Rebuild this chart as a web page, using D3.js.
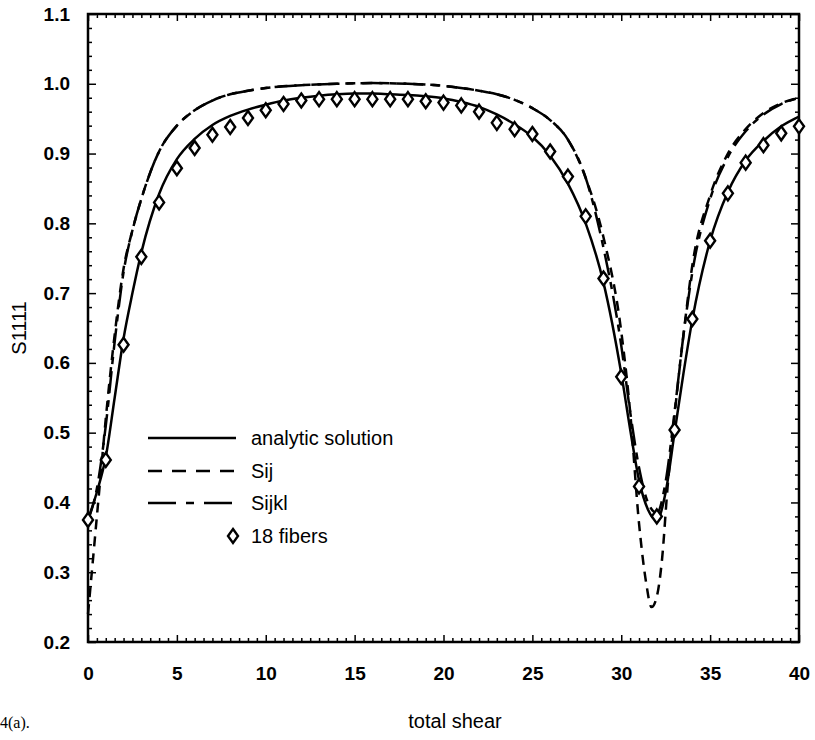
<!DOCTYPE html>
<html>
<head>
<meta charset="utf-8">
<style>
body { margin: 0; background: #fff; }
svg { display: block; }
.tick-label { font-family: "Liberation Sans", Arial, sans-serif; font-weight: bold; font-size: 19px; fill: #000; }
.legend text { font-family: "Liberation Sans", Arial, sans-serif; font-size: 20px; fill: #000; }
</style>
</head>
<body>
<script src="https://d3js.org/d3.v7.min.js"></script>
<script>
// values
var fiberShear = d3.range(0, 41);
var fibers18 = [0.375, 0.461, 0.626, 0.752, 0.83, 0.879, 0.908, 0.927, 0.938, 0.951,
                0.962, 0.971, 0.976, 0.978, 0.978, 0.978, 0.978, 0.978, 0.978, 0.975,
                0.973, 0.969, 0.960, 0.944, 0.935, 0.928, 0.903, 0.867, 0.810, 0.721,
                0.580, 0.423, 0.380, 0.504, 0.663, 0.775, 0.843, 0.887, 0.912, 0.929, 0.939];

var analyticShear = [0, 0.5, 1, 1.5, 2, 2.5, 3, 4, 5, 6, 7, 8, 9, 10, 11, 12, 13, 14, 15, 16, 17, 18, 19, 20,
                     21, 22, 23, 24, 25, 26, 27, 28, 29, 30, 30.5, 31, 31.5, 32, 32.5, 33, 33.5, 34, 35, 36, 37, 38, 39, 40];
var analytic = [0.375, 0.415, 0.465, 0.55, 0.635, 0.70, 0.758, 0.842, 0.892, 0.921, 0.941, 0.954, 0.963, 0.970,
                0.976, 0.980, 0.983, 0.985, 0.986, 0.986, 0.985, 0.984, 0.982, 0.979, 0.974, 0.967, 0.956, 0.942,
                0.924, 0.897, 0.857, 0.800, 0.715, 0.585, 0.505, 0.432, 0.39, 0.375, 0.415, 0.50, 0.585, 0.662,
                0.775, 0.845, 0.89, 0.918, 0.939, 0.953];

var sijShear = [0, 0.25, 0.5, 0.75, 1, 1.5, 2, 2.5, 3, 4, 5, 6, 7, 8, 9, 10, 12, 14, 16, 18, 20, 22, 23, 24, 25,
                26, 27, 28, 29, 30, 30.5, 31, 31.4, 31.7, 32, 32.3, 32.6, 33, 33.5, 34, 35, 36, 37, 38, 39, 40];
var sij = [0.24, 0.31, 0.38, 0.45, 0.52, 0.64, 0.735, 0.79, 0.835, 0.903, 0.94, 0.962, 0.976, 0.985, 0.99, 0.994,
           0.998, 1.0, 1.001, 1.0, 0.997, 0.99, 0.985, 0.977, 0.965, 0.948, 0.92, 0.865, 0.78, 0.645, 0.53, 0.37,
           0.285, 0.25, 0.265, 0.32, 0.42, 0.525, 0.64, 0.74, 0.84, 0.90, 0.935, 0.958, 0.972, 0.98];

var sijklShear = [0, 0.5, 1, 1.5, 2, 2.5, 3, 4, 5, 6, 7, 8, 9, 10, 12, 14, 16, 18, 20, 22, 23, 24, 25, 26, 27,
                  28, 29, 30, 30.5, 31, 31.5, 32, 32.5, 33, 33.5, 34, 35, 36, 37, 38, 39, 40];
var sijkl = [0.375, 0.42, 0.51, 0.63, 0.73, 0.79, 0.835, 0.903, 0.94, 0.962, 0.976, 0.985, 0.99, 0.994, 0.998,
             1.0, 1.001, 1.0, 0.997, 0.99, 0.985, 0.977, 0.965, 0.948, 0.92, 0.865, 0.765, 0.625, 0.53, 0.45,
             0.40, 0.385, 0.43, 0.53, 0.64, 0.73, 0.835, 0.895, 0.932, 0.956, 0.971, 0.98];

var xTicks = [0, 5, 10, 15, 20, 25, 30, 35, 40];
var yTicks = [0.2, 0.3, 0.4, 0.5, 0.6, 0.7, 0.8, 0.9, 1.0, 1.1];
var legendNames = ["analytic solution", "Sij", "Sijkl", "18 fibers"];

var W = 815, H = 740;
var margin = {top: 14, right: 16, bottom: 98, left: 88};
var width = W - margin.left - margin.right,
    height = H - margin.top - margin.bottom;

var svg = d3.select("body").append("svg")
    .attr("width", W)
    .attr("height", H);
var g = svg.append("g")
    .attr("transform", "translate(" + margin.left + "," + margin.top + ")");

var x = d3.scaleLinear().domain([0, 40]).range([0, width]);
var y = d3.scaleLinear().domain([0.2, 1.1]).range([height, 0]);

// ticks pointing inward on all four sides
var minorX = d3.range(0, 40.01, 0.5), minorY = d3.range(0.2, 1.101, 0.02);
function isMajorX(d) { return Math.abs(d / 5 - Math.round(d / 5)) < 1e-6; }
function isMajorY(d) { return Math.abs(d * 10 - Math.round(d * 10)) < 1e-6; }

g.append("g")
    .attr("transform", "translate(0," + height + ")")
    .call(d3.axisTop(x).tickValues(minorX).tickSize(4).tickFormat(""))
    .call(function(a) { a.select(".domain").remove(); a.selectAll("line").attr("y2", function(d) { return isMajorX(d) ? -7 : -4; }).attr("stroke-width", 1.5); });
g.append("g")
    .call(d3.axisBottom(x).tickValues(minorX).tickSize(4).tickFormat(""))
    .call(function(a) { a.select(".domain").remove(); a.selectAll("line").attr("y2", function(d) { return isMajorX(d) ? 7 : 4; }).attr("stroke-width", 1.5); });
g.append("g")
    .call(d3.axisRight(y).tickValues(minorY).tickSize(4).tickFormat(""))
    .call(function(a) { a.select(".domain").remove(); a.selectAll("line").attr("x2", function(d) { return isMajorY(d) ? 8 : 4; }).attr("stroke-width", 1.5); });
g.append("g")
    .attr("transform", "translate(" + width + ",0)")
    .call(d3.axisLeft(y).tickValues(minorY).tickSize(4).tickFormat(""))
    .call(function(a) { a.select(".domain").remove(); a.selectAll("line").attr("x2", function(d) { return isMajorY(d) ? -8 : -4; }).attr("stroke-width", 1.5); });

// tick labels
g.append("g")
    .attr("transform", "translate(0," + height + ")")
    .call(d3.axisBottom(x).tickValues(xTicks).tickSize(0).tickPadding(25).tickFormat(d3.format("d")))
    .call(function(a) { a.select(".domain").remove(); a.selectAll("text").attr("class", "tick-label"); });
g.append("g")
    .call(d3.axisLeft(y).tickValues(yTicks).tickSize(0).tickPadding(18).tickFormat(d3.format(".1f")))
    .call(function(a) { a.select(".domain").remove(); a.selectAll("text").attr("class", "tick-label"); });

// frame
g.append("rect")
    .attr("width", width).attr("height", height)
    .attr("fill", "none").attr("stroke", "#000").attr("stroke-width", 2.5);

var line = d3.line()
    .x(function(d) { return x(d[0]); })
    .y(function(d) { return y(d[1]); })
    .curve(d3.curveMonotoneX);

var series = [
    {xs: sijShear, ys: sij, dash: "10,7"},
    {xs: sijklShear, ys: sijkl, dash: "22,7,7,7"},
    {xs: analyticShear, ys: analytic, dash: null}
];
series.forEach(function(s) {
    g.append("path")
        .datum(d3.zip(s.xs, s.ys))
        .attr("fill", "none")
        .attr("stroke", "#000")
        .attr("stroke-width", 2.5)
        .attr("stroke-dasharray", s.dash)
        .attr("d", line);
});

function diamond(w, h) {
    return "M0," + (-h / 2) + "L" + (w / 2) + ",0L0," + (h / 2) + "L" + (-w / 2) + ",0Z";
}
g.selectAll(".fiber")
    .data(d3.zip(fiberShear, fibers18))
    .enter().append("path")
    .attr("class", "fiber")
    .attr("transform", function(d) { return "translate(" + x(d[0]) + "," + y(d[1]) + ")"; })
    .attr("d", diamond(10, 14))
    .attr("fill", "#fff")
    .attr("stroke", "#000")
    .attr("stroke-width", 2.4);

// legend
var legend = svg.append("g").attr("class", "legend");
var legendDash = [null, "14,10", "28,10,8,10"];
var legendY = [438, 471, 503, 536];
legendNames.forEach(function(name, i) {
    if (i < 3) {
        legend.append("line")
            .attr("x1", 148).attr("x2", 236)
            .attr("y1", legendY[i]).attr("y2", legendY[i])
            .attr("stroke", "#000").attr("stroke-width", 2.5)
            .attr("stroke-dasharray", legendDash[i]);
    } else {
        legend.append("path")
            .attr("transform", "translate(233," + legendY[i] + ")")
            .attr("d", diamond(10, 14))
            .attr("fill", "#fff").attr("stroke", "#000").attr("stroke-width", 2.4);
    }
    legend.append("text")
        .attr("x", 251).attr("y", legendY[i])
        .attr("dy", "0.35em")
        .text(name);
});

// axis titles
svg.append("text")
    .attr("transform", "translate(26," + (margin.top + y(0.65)) + ") rotate(-90)")
    .attr("text-anchor", "middle")
    .style("font-family", "Liberation Sans, Arial, sans-serif")
    .style("font-size", "20px")
    .text("S1111");
svg.append("text")
    .attr("x", 455).attr("y", 728)
    .attr("text-anchor", "middle")
    .style("font-family", "Liberation Sans, Arial, sans-serif")
    .style("font-size", "20px")
    .text("total shear");
svg.append("text")
    .attr("x", 0).attr("y", 728)
    .style("font-family", "Liberation Serif, Times New Roman, serif")
    .style("font-size", "16px")
    .text("4(a).");
</script>
</body>
</html>
